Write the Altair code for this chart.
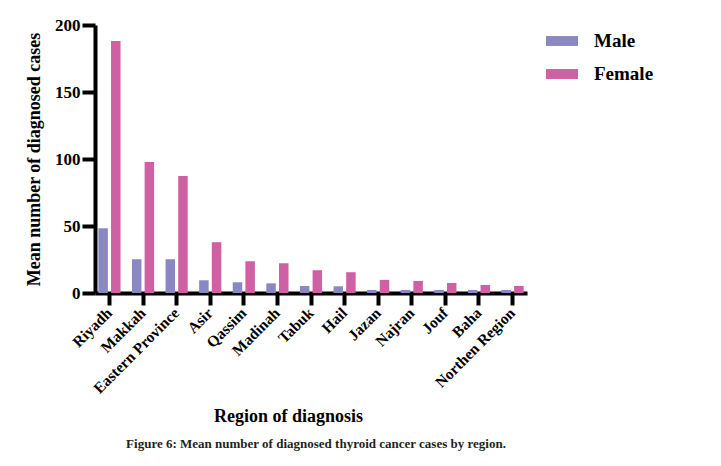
import altair as alt
import pandas as pd

regions = ["Riyadh", "Makkah", "Eastern Province", "Asir", "Qassim", "Madinah",
           "Tabuk", "Hail", "Jazan", "Najran", "Jouf", "Baha", "Northen Region"]
male = [48.3, 25.2, 25.2, 9.5, 8.0, 7.2, 5.2, 5.0, 2.3, 2.3, 2.3, 2.3, 2.3]
female = [188.0, 97.7, 87.4, 37.9, 23.7, 22.2, 17.0, 15.5, 9.8, 9.0, 7.5, 6.0, 5.3]
sexes = ["Male", "Female"]
colors = ["#8A88C2", "#CF60A3"]
caption = "Figure 6: Mean number of diagnosed thyroid cancer cases by region."

rows = []
for r, m, f in zip(regions, male, female):
    rows.append({"Region": r, "Sex": "Male", "Value": m})
    rows.append({"Region": r, "Sex": "Female", "Value": f})
df = pd.DataFrame(rows)

FONT = "Liberation Serif"

chart = alt.Chart(df).mark_bar().encode(
    x=alt.X("Region:N", sort=regions,
            scale=alt.Scale(paddingInner=0.34, paddingOuter=0.1),
            axis=alt.Axis(title="Region of diagnosis", labelAngle=-45,
                          labelAlign="right", labelBaseline="middle",
                          labelFontSize=15.5, labelFont=FONT, labelFontWeight="bold",
                          labelColor="black", labelPadding=5, grid=False,
                          tickSize=12, tickWidth=4, tickColor="black",
                          domainWidth=4, domainColor="black",
                          titleFont=FONT, titleFontSize=18, titleFontWeight="bold",
                          titleColor="black", titleX=193, titleY=128,
                          titleBaseline="alphabetic", titleAlign="center")),
    xOffset=alt.XOffset("Sex:N", sort=sexes,
                        scale=alt.Scale(paddingInner=0.25, paddingOuter=0)),
    y=alt.Y("Value:Q", scale=alt.Scale(domain=[0, 200], nice=False),
            axis=alt.Axis(title="Mean number of diagnosed cases", values=[0, 50, 100, 150, 200],
                          grid=False, labelFontSize=17, labelFont=FONT, labelFontWeight="bold",
                          labelColor="black", labelPadding=2,
                          tickSize=13, tickWidth=4, tickColor="black",
                          domainWidth=4, domainColor="black",
                          titleFont=FONT, titleFontSize=18, titleFontWeight="bold",
                          titleColor="black", titleX=-56, titleY=134, titleAngle=270,
                          titleBaseline="alphabetic", titleAlign="center")),
    color=alt.Color("Sex:N", sort=sexes,
                    scale=alt.Scale(domain=sexes, range=colors),
                    legend=alt.Legend(title=None, orient="none", legendX=451, legendY=0,
                                      symbolType="M-1,-0.31 L1,-0.31 L1,0.31 L-1,0.31 Z",
                                      symbolSize=1024, symbolStrokeWidth=0, symbolOpacity=1,
                                      labelFont=FONT, labelFontSize=19, labelFontWeight="bold",
                                      labelColor="black", labelOffset=16, rowPadding=7)),
).properties(
    width=432, height=268,
    background="white",
    title=alt.TitleParams(caption, orient="bottom", anchor="middle", frame="group",
                          font=FONT, fontSize=13, fontWeight="bold", color="#231F20",
                          baseline="top", offset=13, dx=5),
    autosize=alt.AutoSizeParams(type="none"),
    padding={"left": 87, "top": 17, "right": 180, "bottom": 160},
).configure_view(stroke=None, strokeWidth=0)

chart.save("out.html", embed_options={"renderer": "svg", "actions": False})
